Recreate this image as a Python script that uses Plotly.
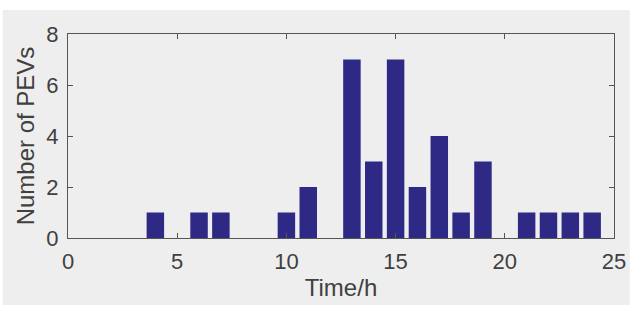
import plotly.graph_objects as go

hours = list(range(1, 25))
pevs = [0, 0, 0, 1, 0, 1, 1, 0, 0, 1, 2, 0, 7, 3, 7, 2, 4, 1, 3, 0, 1, 1, 1, 1]
x_ticks = [0, 5, 10, 15, 20, 25]
y_ticks = [0, 2, 4, 6, 8]

FONT = "Liberation Sans, Arial, sans-serif"
fig = go.Figure()
fig.add_trace(go.Bar(
    x=hours, y=pevs, width=0.8,
    marker=dict(color="#2d2985", line=dict(width=0)),
))

axis_common = dict(
    showline=True, linecolor="#555555", linewidth=1.3, mirror="allticks",
    ticks="inside", ticklen=5, tickcolor="#555555", showgrid=False, zeroline=False,
    tickfont=dict(family=FONT, size=22, color="#404040"),
)
fig.update_layout(
    width=638, height=322,
    margin=dict(l=68, r=18, t=34, b=84),
    paper_bgcolor="white", plot_bgcolor="white",
    showlegend=False,
    xaxis=dict(range=[0, 25], tickvals=x_ticks, ticklabelstandoff=3,
               title=dict(text="Time/h", standoff=6,
                          font=dict(family=FONT, size=24, color="#404040")),
               **axis_common),
    yaxis=dict(range=[0, 8], tickvals=y_ticks, ticklabelstandoff=4,
               title=dict(text="Number of PEVs", standoff=4,
                          font=dict(family=FONT, size=24, color="#404040")),
               **axis_common),
    shapes=[dict(type="rect", xref="paper", yref="paper",
                 x0=-66/552, x1=1 + 16/552, y0=-67/204, y1=1 + 24/204,
                 fillcolor="#eeeeee", line=dict(width=0), layer="below")],
)
fig.write_html("out.html")
